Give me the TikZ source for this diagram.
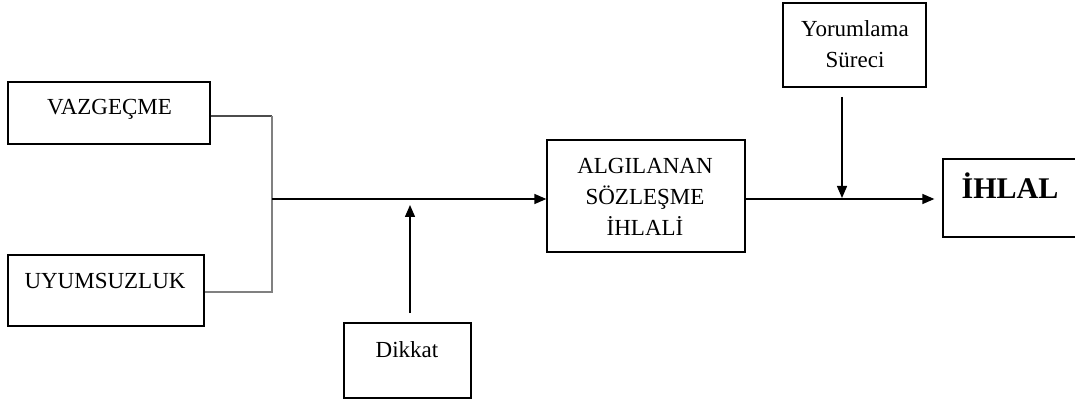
\documentclass[tikz,border=0pt]{standalone}
\usepackage{fontspec}
\setmainfont{Liberation Serif}
\usetikzlibrary{arrows.meta}
\begin{document}
\begin{tikzpicture}[x=1pt,y=-1pt,
  box/.style={draw=black, line width=1.3pt, inner sep=0pt},
  lbl/.style={font=\fontsize{23}{31}\selectfont, align=center, inner sep=0pt, anchor=base},
  link/.style={line width=1.4pt, -{Triangle[length=12pt,width=10pt]}},
  graylink/.style={line width=2pt, draw=black!50}]
\useasboundingbox (0,0) rectangle (1075,403);

% boxes
\node[box, minimum width=202pt, minimum height=62pt] (vaz) at (109,113) {};
\node[box, minimum width=196pt, minimum height=71pt] (uyum) at (106,290.5) {};
\node[box, minimum width=127pt, minimum height=75pt] (dik) at (407.5,360.5) {};
\node[box, minimum width=198pt, minimum height=112pt] (alg) at (646,196) {};
\node[box, minimum width=143pt, minimum height=84pt] (yor) at (854.5,45) {};
\node[box, minimum width=137pt, minimum height=78pt] (ih) at (1011.5,198) {};

% labels (multi-line labels sit on their last baseline)
\node[lbl] (tvaz) at (109.5,115) {VAZGEÇME};
\node[lbl] (tuyum) at (105,288) {UYUMSUZLUK};
\node[lbl] (tdik) at (407,357) {Dikkat};
\node[lbl] (talg) at (645,236) {ALGILANAN\\SÖZLEŞME\\İHLALİ};
\node[lbl] (tyor) at (855,68) {Yorumlama\\Süreci};
\node[lbl, font=\fontsize{30}{36}\selectfont\bfseries] (tih) at (1010,199) {İHLAL};

% junction of the two inputs
\coordinate (jt) at (272,116);
\coordinate (jb) at (272,292);
\coordinate (j) at (272,199);
\draw[line width=1.4pt, draw=black!70] ([yshift=-3pt]vaz.east) -- (jt);
\draw[graylink] (jt) -- (jb) -- (uyum.east |- jb);
\draw[link] (j) -- (alg.west |- j);

% Dikkat acting on the main line
\coordinate (dstart) at (410,313);
\coordinate (dtip) at (410,205);
\draw[link] (dstart) -- (dtip);

% main line to the outcome
\coordinate (ma) at (745,199);
\draw[link] (ma) -- ([xshift=-8pt]ih.west |- ma);

% interpretation acting on the outcome line
\coordinate (ystart) at (842,97);
\coordinate (ytip) at (842,198);
\draw[link] (ystart) -- (ytip);
\end{tikzpicture}
\end{document}
